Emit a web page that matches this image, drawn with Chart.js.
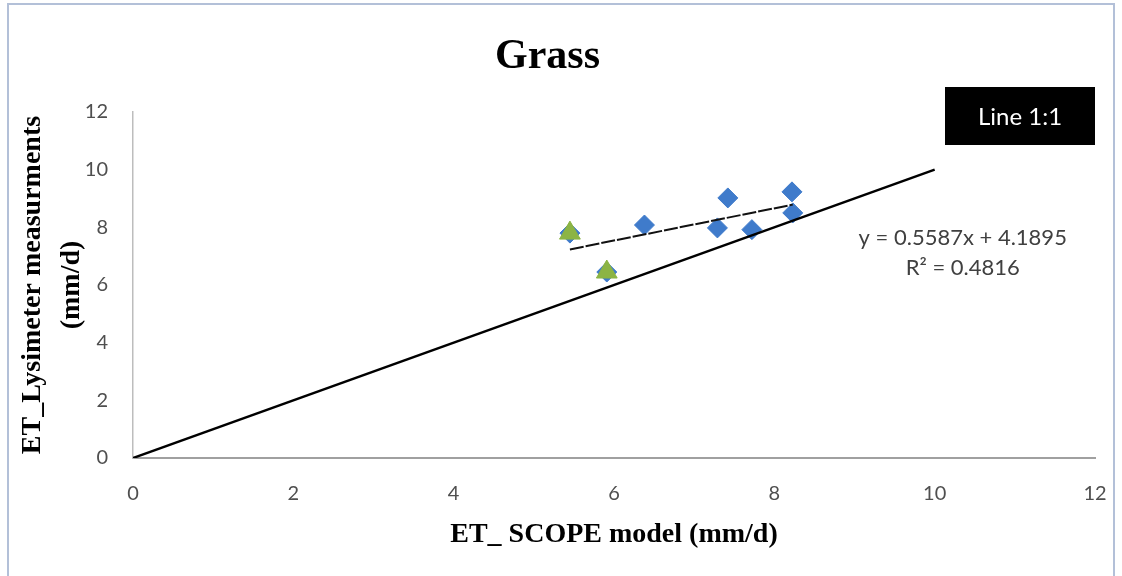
<!DOCTYPE html>
<html lang="en">

<head>
    <meta charset="UTF-8">
    <title>Grass - ET SCOPE vs Lysimeter</title>
    <script src="https://cdn.jsdelivr.net/npm/chart.js"></script>
    <style>
        html, body {
            margin: 0;
            padding: 0;
            background: #ffffff;
        }

        .chart-container {
            width: 1122px;
            height: 576px;
        }
    </style>
</head>

<body>
    <div class="chart-container">
        <canvas id="etChart" width="1122" height="576"></canvas>
    </div>

    <script>
        // Measured points (SCOPE model vs lysimeter), mm/d
        const scopeX = [5.45, 5.91, 6.38, 7.29, 7.42, 7.72, 8.22, 8.23];
        const lysimeterY = [7.80, 6.45, 8.08, 7.98, 9.02, 7.92, 9.23, 8.50];

        // Days highlighted with triangles
        const highlightX = [5.45, 5.91];
        const highlightY = [7.80, 6.45];

        // Linear trendline coefficients and fit
        const trendSlope = 0.5587;
        const trendIntercept = 4.1895;
        const trendR2 = 0.4816;

        // 1:1 reference line end points
        const oneToOneX = [0, 10];
        const oneToOneY = [0, 10];

        const axisTicks = [0, 2, 4, 6, 8, 10, 12];

        const toPoints = (xs, ys) => xs.map((x, i) => ({ x: x, y: ys[i] }));

        const trendStart = Math.min(...scopeX);
        const trendEnd = Math.max(...scopeX);
        const trendPoints = [
            { x: trendStart, y: trendSlope * trendStart + trendIntercept },
            { x: trendEnd, y: trendSlope * trendEnd + trendIntercept }
        ];

        const sansFamily = 'Lato, "Open Sans", sans-serif';
        const tickFont = { family: sansFamily, size: 20 };
        const serifBold = 'Liberation Serif, "DejaVu Serif", serif';

        // White background and thin outer frame
        const frame = {
            id: 'frame',
            beforeDraw(chart) {
                const ctx = chart.ctx;
                ctx.save();
                ctx.fillStyle = '#ffffff';
                ctx.fillRect(0, 0, chart.width, chart.height);
                ctx.strokeStyle = '#b3c0d8';
                ctx.lineWidth = 2;
                ctx.strokeRect(8, 4, chart.width - 16, chart.height - 3);
                ctx.restore();
            }
        };

        // Black legend box for the 1:1 line, plus trendline equation
        const annotations = {
            id: 'annotations',
            afterDatasetsDraw(chart) {
                const ctx = chart.ctx;
                const area = chart.chartArea;
                const xs = chart.scales.x;
                const ys = chart.scales.y;
                ctx.save();

                const boxW = 150, boxH = 58;
                const boxX = area.right - boxW;
                const boxY = area.top - 25;
                ctx.fillStyle = '#000000';
                ctx.fillRect(boxX, boxY, boxW, boxH);
                ctx.fillStyle = '#ffffff';
                ctx.font = '24px ' + sansFamily;
                ctx.textAlign = 'center';
                ctx.textBaseline = 'middle';
                ctx.fillText(chart.data.datasets[0].label, boxX + boxW / 2, boxY + boxH / 2 + 1);

                ctx.fillStyle = '#404040';
                ctx.font = '22px ' + sansFamily;
                const ex = xs.getPixelForValue(10.35);
                ctx.fillText('y = ' + trendSlope.toFixed(4) + 'x + ' + trendIntercept.toFixed(4),
                    ex, ys.getPixelForValue(7.63));
                ctx.fillText('R\u00B2 = ' + trendR2.toFixed(4), ex, ys.getPixelForValue(6.59));
                ctx.restore();
            }
        };

        const ctx = document.getElementById('etChart').getContext('2d');

        new Chart(ctx, {
            type: 'scatter',
            data: {
                datasets: [{
                    label: 'Line 1:1',
                    data: toPoints(oneToOneX, oneToOneY),
                    showLine: true,
                    borderColor: '#000000',
                    borderWidth: 2.5,
                    pointRadius: 0,
                    order: 0
                }, {
                    label: 'Trendline',
                    data: trendPoints,
                    showLine: true,
                    borderColor: '#111111',
                    borderWidth: 2,
                    borderDash: [14, 2],
                    pointRadius: 0,
                    order: 0
                }, {
                    label: 'ET',
                    data: toPoints(scopeX, lysimeterY),
                    pointStyle: 'rectRot',
                    pointRadius: 10,
                    backgroundColor: '#3f7bcb',
                    borderColor: '#3f7bcb',
                    borderWidth: 1,
                    order: 2
                }, {
                    label: 'Highlighted',
                    data: toPoints(highlightX, highlightY),
                    pointStyle: 'triangle',
                    pointRadius: 12,
                    backgroundColor: '#8cb444',
                    borderColor: '#8cb444',
                    borderWidth: 1,
                    order: 1
                }]
            },
            options: {
                responsive: false,
                animation: false,
                layout: { padding: { left: 0, right: 27, top: 0, bottom: 0 } },
                plugins: {
                    legend: { display: false },
                    tooltip: { enabled: false },
                    title: {
                        display: true,
                        text: 'Grass',
                        color: '#000000',
                        font: { family: serifBold, size: 42, weight: 'bold', lineHeight: 1.2 },
                        padding: { top: 32, bottom: 29.6 }
                    }
                },
                scales: {
                    x: {
                        type: 'linear',
                        min: 0,
                        max: 12,
                        afterBuildTicks(scale) {
                            scale.ticks = axisTicks.map(v => ({ value: v }));
                        },
                        afterFit(scale) {
                            scale.height = 118;
                            scale.paddingLeft = 0;
                            scale.paddingRight = 0;
                        },
                        grid: { display: false, drawTicks: false },
                        border: { display: true, color: '#a0a0a0', width: 2 },
                        ticks: { color: '#4f4f4f', font: tickFont, padding: 24, maxRotation: 0 },
                        title: {
                            display: true,
                            text: 'ET_ SCOPE model (mm/d)',
                            color: '#000000',
                            font: { family: serifBold, size: 28, weight: 'bold', lineHeight: 1.2 },
                            padding: { top: 0, bottom: 24 }
                        }
                    },
                    y: {
                        type: 'linear',
                        min: 0,
                        max: 12,
                        afterBuildTicks(scale) {
                            scale.ticks = axisTicks.map(v => ({ value: v }));
                        },
                        afterFit(scale) {
                            scale.width = 133;
                        },
                        grid: { display: false, drawTicks: false },
                        border: { display: true, color: '#bdbdbd', width: 1.5 },
                        ticks: { color: '#4f4f4f', font: tickFont, padding: 25 },
                        title: {
                            display: true,
                            text: ['ET_Lysimeter measurments', '(mm/d)'],
                            color: '#000000',
                            font: { family: serifBold, size: 28, weight: 'bold', lineHeight: 1.4 },
                            padding: { top: 13, bottom: 0 }
                        }
                    }
                }
            },
            plugins: [frame, annotations]
        });
    </script>
</body>

</html>
